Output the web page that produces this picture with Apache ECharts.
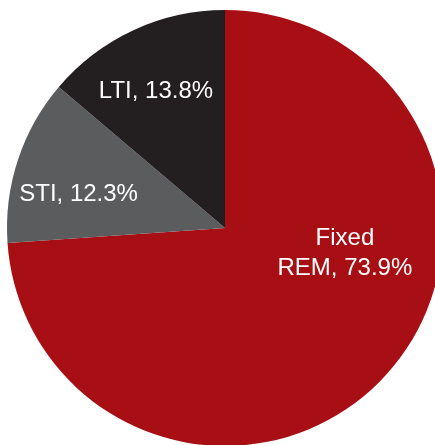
<!DOCTYPE html>
<html>
<head>
<meta charset="utf-8">
<script src="https://cdn.jsdelivr.net/npm/echarts@6/dist/echarts.min.js"></script>
<style>
  html, body { margin: 0; padding: 0; background: #fff; }
  #chart { width: 435px; height: 445px; }
</style>
</head>
<body>
<div id="chart"></div>
<script>
// 数据
var names = ['Fixed\nREM', 'STI', 'LTI'];
var values = [73.9, 12.3, 13.8];
var colors = ['#A70F15', '#5B5C5E', '#231F20'];
// 标签偏移（相对扇区内部默认位置）
var labelOffsets = [[38, -51], [-40, 1], [-22, -35]];

var chart = echarts.init(document.getElementById('chart'));

var data = [];
for (var i = 0; i < names.length; i++) {
    data.push({
        name: names[i],
        value: values[i],
        itemStyle: { color: colors[i] },
        label: { offset: labelOffsets[i] }
    });
}

chart.setOption({
    animation: false,
    series: [{
        type: 'pie',
        center: [225, 228],
        radius: [0, 218],
        startAngle: 90,
        clockwise: true,
        avoidLabelOverlap: false,
        itemStyle: { borderWidth: 0 },
        label: {
            show: true,
            position: 'inside',
            color: '#fff',
            fontFamily: 'Liberation Sans',
            fontSize: 24,
            lineHeight: 30,
            align: 'center',
            formatter: function (p) {
                return p.name + ', ' + p.value.toFixed(1) + '%';
            }
        },
        labelLine: { show: false },
        emphasis: { disabled: true },
        data: data
    }]
});
</script>
</body>
</html>
